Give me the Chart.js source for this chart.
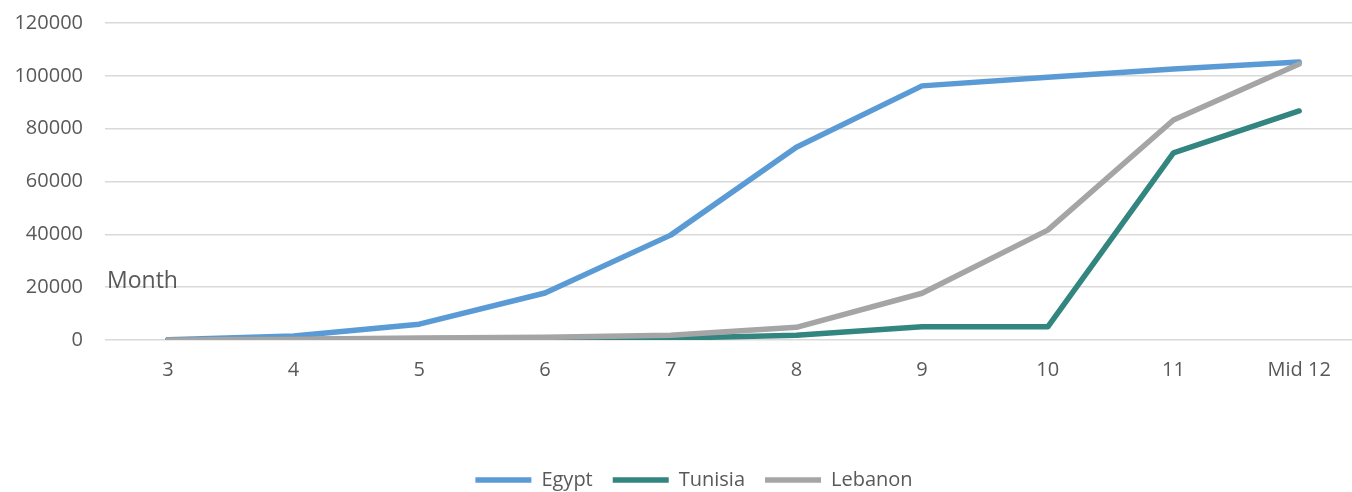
<!DOCTYPE html>
<html>
<head>
<meta charset="utf-8">
<script src="https://cdn.jsdelivr.net/npm/chart.js@4.4.1/dist/chart.umd.min.js"></script>
<style>
  html, body { margin: 0; padding: 0; background: #fff; overflow: hidden; }
  #wrap { position: relative; top: -11px; width: 1362px; height: 511px; }
</style>
</head>
<body>
<div id="wrap"><canvas id="monthChart"></canvas></div>
<script>
// months on the x axis
var meses = ['3', '4', '5', '6', '7', '8', '9', '10', '11', 'Mid 12'];

// cumulative values per country
var egypt   = [100, 1500, 6000, 17800, 39700, 73000, 96200, 99500, 102600, 105200];
var tunisia = [0, 200, 500, 600, 700, 1800, 5000, 5000, 70800, 86700];
var lebanon = [0, 300, 800, 1000, 1800, 4800, 17700, 41600, 83300, 104500];

var corTexto = '#595959';

// "Month" label sitting inside the plot, left side
var rotuloMes = {
    id: 'rotuloMes',
    afterLayout: function (chart) {
        // legend sits a little right of centre
        chart.legend.left += 13;
        chart.legend.right += 13;
    },
    afterDraw: function (chart) {
        var ctx = chart.ctx;
        ctx.save();
        ctx.font = '23px "Open Sans"';
        ctx.fillStyle = corTexto;
        ctx.textBaseline = 'middle';
        ctx.textAlign = 'left';
        ctx.fillText('Month', chart.chartArea.left + 2, 292);
        ctx.restore();
    }
};

function plotarGrafico() {
    var canvas = document.getElementById('monthChart').getContext('2d');

    var serie = function (label, data, cor, ordem) {
        return {
            label: label,
            data: data,
            borderColor: cor,
            backgroundColor: cor,
            borderWidth: 5.5,
            borderCapStyle: 'round',
            borderJoinStyle: 'round',
            pointRadius: 0,
            pointHoverRadius: 0,
            tension: 0,
            fill: false,
            order: ordem
        };
    };

    new Chart(canvas, {
        type: 'line',
        data: {
            labels: meses,
            datasets: [
                serie('Egypt', egypt, '#5B9BD5', 2),
                serie('Tunisia', tunisia, '#338580', 1),
                serie('Lebanon', lebanon, '#A5A5A5', 0)
            ]
        },
        options: {
            responsive: true,
            maintainAspectRatio: false,
            animation: false,
            layout: {
                padding: { top: 11, left: 0, right: 0, bottom: 0 }
            },
            scales: {
                x: {
                    offset: true,
                    grid: { display: false },
                    border: { display: false },
                    ticks: {
                        color: corTexto,
                        padding: 10,
                        maxRotation: 0,
                        font: { family: 'Open Sans', size: 20 }
                    },
                    afterFit: function (scale) {
                        scale.height = 110;
                    }
                },
                y: {
                    min: 0,
                    max: 120000,
                    border: { display: false },
                    grid: {
                        color: '#d9d9d9',
                        lineWidth: 1.5,
                        drawTicks: false
                    },
                    ticks: {
                        stepSize: 20000,
                        color: corTexto,
                        padding: 22,
                        font: { family: 'Open Sans', size: 20 },
                        callback: function (valor) {
                            return String(valor);
                        }
                    },
                    afterFit: function (scale) {
                        scale.width = 105;
                    }
                }
            },
            plugins: {
                legend: {
                    position: 'bottom',
                    labels: {
                        usePointStyle: true,
                        pointStyle: 'line',
                        pointStyleWidth: 56,
                        padding: 20,
                        color: corTexto,
                        font: { family: 'Open Sans', size: 20 },
                        sort: function (a, b) {
                            return a.datasetIndex - b.datasetIndex;
                        }
                    }
                },
                tooltip: { enabled: false }
            }
        },
        plugins: [rotuloMes]
    });
}

plotarGrafico();
</script>
</body>
</html>
